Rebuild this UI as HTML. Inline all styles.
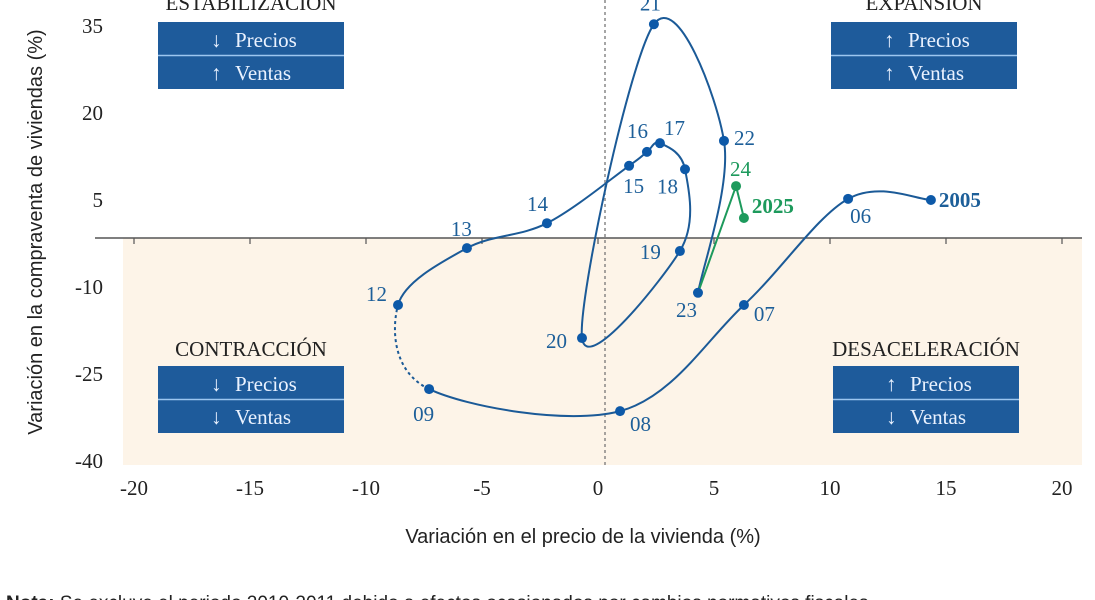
<!DOCTYPE html>
<html><head><meta charset="utf-8">
<style>
body{margin:0;background:#fff;width:1095px;height:600px;overflow:hidden}
svg{display:block}
.tick{font-family:"Liberation Serif",serif;font-size:21px;fill:#222}
.lab{font-family:"Liberation Serif",serif;font-size:21px;fill:#1d5f99}
.title{font-family:"Liberation Sans",sans-serif;font-size:20px;fill:#222}
.qt{font-family:"Liberation Serif",serif;font-size:21px;fill:#222}
.bx{font-family:"Liberation Serif",serif;font-size:21px;fill:#eaf2ff}
</style></head><body>
<svg id="chart" width="1095" height="600">
<rect x="123" y="238" width="959" height="227" fill="#fdf4e8"/>
<line x1="605" y1="0" x2="605" y2="465" stroke="#777" stroke-width="1.3" stroke-dasharray="3,3"/>
<line x1="95" y1="238" x2="1082" y2="238" stroke="#555" stroke-width="1.5"/>
<g id="xticks"></g><g id="yticks"></g>
<text class="title" transform="translate(42,232) rotate(-90)" text-anchor="middle">Variación en la compraventa de viviendas (%)</text>
<text class="title" x="583" y="543" text-anchor="middle">Variación en el precio de la vivienda (%)</text>
<g id="quads"></g>
<g id="series"></g>
<text x="6" y="609" style="font-family:'Liberation Sans',sans-serif;font-size:19px;fill:#222"><tspan font-weight="bold">Nota:</tspan> Se excluye el periodo 2010-2011 debido a efectos ocasionados por cambios normativos fiscales.</text>
</svg>
<script>
const years=["2005","06","07","08","09","12","13","14","15","16","17","18","19","20","21","22","23"];
const priceVals=[14.35,10.78,6.29,0.95,-7.28,-8.62,-5.65,-2.2,1.34,2.11,2.67,3.75,3.53,-0.69,2.41,5.43,4.31];
const salesVals=[5.0,5.2,-13.1,-31.4,-27.6,-13.1,-3.3,1.0,10.9,13.3,14.8,10.3,-3.8,-18.8,35.3,15.2,-11.0];
const recentYears=["23","24","2025"];
const recentPrice=[4.31,5.95,6.29];
const recentSales=[-11.0,7.4,1.9];
const xTicks=[-20,-15,-10,-5,0,5,10,15,20];
const yTicks=[35,20,5,-10,-25,-40];

const NS="http://www.w3.org/2000/svg";
const X=v=>598+23.2*v, Y=v=>229-5.8*v;
function mk(tag,attrs,parent,txt){const e=document.createElementNS(NS,tag);for(const k in attrs)e.setAttribute(k,attrs[k]);if(txt!=null)e.textContent=txt;parent.appendChild(e);return e;}
const xt=document.getElementById('xticks'),yt=document.getElementById('yticks');
xTicks.forEach(t=>{
 const l=mk('line',{x1:X(t),y1:238,x2:X(t),y2:244,stroke:'#555','stroke-width':1.2},xt);
 
 
 const s=mk('text',{x:X(t),y:495,'text-anchor':'middle',class:'tick'},xt,String(t));
 
 
});
yTicks.forEach(t=>{
 const s=mk('text',{x:103,y:Y(t)+7,'text-anchor':'end',class:'tick'},yt,String(t));
 
 
});
// quadrant labels
const q=document.getElementById('quads');
const quads=[["ESTABILIZACIÓN",251,10,"↓","↑",22,"stabilization"],["EXPANSIÓN",924,10,"↑","↑",22,"expansion"],["CONTRACCIÓN",251,356,"↓","↓",366,"contraction"],["DESACELERACIÓN",926,356,"↑","↓",366,"deceleration"]];
quads.forEach(([name,cx,ty,a1,a2,by,key])=>{
 const g=mk('g',{},q);
 
 
 const t=mk('text',{x:cx,y:ty,'text-anchor':'middle',class:'qt'},g,name);
 
 
 const r=mk('rect',{x:cx-93,y:by,width:186,height:67,fill:'#1e5b9b'},g);
 
 
 mk('line',{x1:cx-93,y1:by+33.5,x2:cx+93,y2:by+33.5,stroke:'#9cc6f0','stroke-width':1.5},g);
 const p=mk('text',{x:cx-16,y:by+25,class:'bx'},g,'Precios');
 
 
 mk('text',{x:cx-40,y:by+25,class:'bx'},g,a1);
 const v=mk('text',{x:cx-16,y:by+58,class:'bx'},g,'Ventas');
 
 
 mk('text',{x:cx-40,y:by+58,class:'bx'},g,a2);
});
// smooth path
const ser=document.getElementById('series');
const pts=priceVals.map((p,i)=>[X(p),Y(salesVals[i])]);
function seg(i){const p0=pts[Math.max(0,i-1)],p1=pts[i],p2=pts[i+1],p3=pts[Math.min(pts.length-1,i+2)];
 const c1=[p1[0]+(p2[0]-p0[0])/6,p1[1]+(p2[1]-p0[1])/6],c2=[p2[0]-(p3[0]-p1[0])/6,p2[1]-(p3[1]-p1[1])/6];
 return `M${p1[0]},${p1[1]} C${c1[0]},${c1[1]} ${c2[0]},${c2[1]} ${p2[0]},${p2[1]}`;}
let solid='';for(let i=0;i<pts.length-1;i++){if(years[i]==="09")continue;solid+=seg(i)+' ';}
const sp=mk('path',{d:solid,fill:'none',stroke:'#1b5a97','stroke-width':2},ser);


const i9=years.indexOf("09");
const dp=mk('path',{d:seg(i9),fill:'none',stroke:'#1b5a97','stroke-width':2,'stroke-dasharray':'3,3'},ser);


const gp=mk('polyline',{points:recentPrice.map((p,i)=>X(p)+','+Y(recentSales[i])).join(' '),fill:'none',stroke:'#1d9a5c','stroke-width':2},ser);


const off={"2005":[8,7,'bold'],"06":[2,24],"07":[10,16],"08":[10,20],"09":[-16,32],"12":[-32,-4],"13":[-16,-12],"14":[-20,-12],"15":[-6,27],"16":[-20,-14],"17":[4,-8],"18":[-28,24],"19":[-40,8],"20":[-36,10],"21":[-14,-14],"22":[10,4],"23":[-22,24]};
years.forEach((y,i)=>{
 const c=mk('circle',{cx:X(priceVals[i]),cy:Y(salesVals[i]),r:5,fill:'#0d59a8'},ser);
 
 
 const o=off[y];
 const t=mk('text',{x:X(priceVals[i])+o[0],y:Y(salesVals[i])+o[1],class:'lab'},ser,y);
 if(o[2]){t.setAttribute('font-weight','bold');t.setAttribute('fill','#1a5a97');}
 
 
});
const goff={"24":[-6,-10,''],"2025":[8,-5,'bold']};
recentYears.forEach((y,i)=>{
 if(i===0)return;
 const c=mk('circle',{cx:X(recentPrice[i]),cy:Y(recentSales[i]),r:5,fill:'#1d9a5c'},ser);
 
 
 const o=goff[y];
 const t=mk('text',{x:X(recentPrice[i])+o[0],y:Y(recentSales[i])+o[1],class:'lab',fill:'#1d9a5c',style:'fill:#1d9a5c'},ser,y);
 if(o[2])t.setAttribute('font-weight','bold');
 
 
});
</script>
</body></html>
